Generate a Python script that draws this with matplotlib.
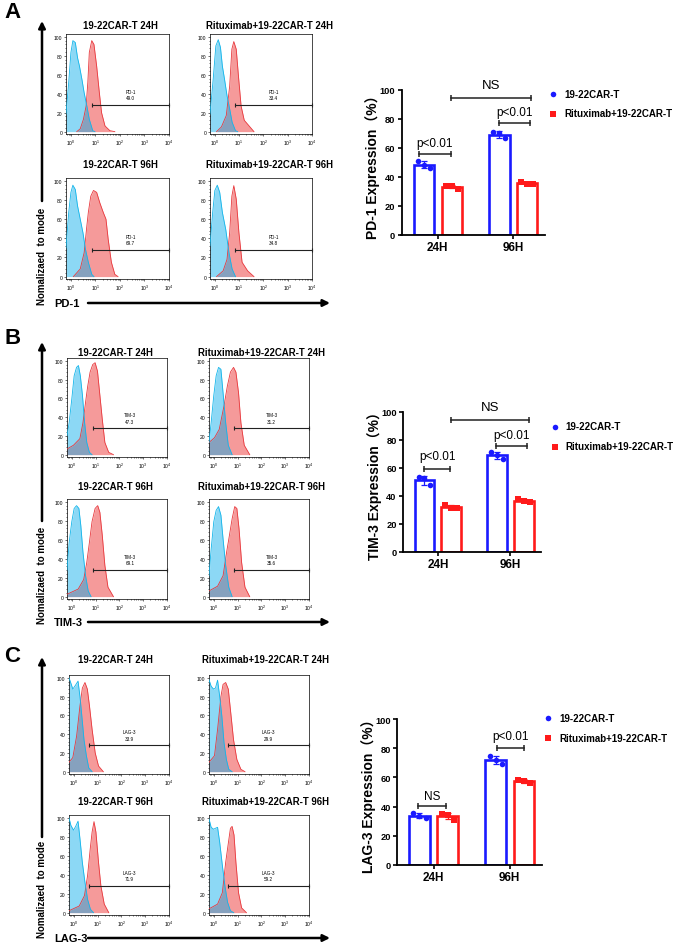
import numpy as np
import matplotlib.pyplot as plt
from matplotlib.ticker import MultipleLocator

plt.rcParams['font.family'] = ['Liberation Sans', 'Noto Sans CJK SC', 'DejaVu Sans']

W, H = 694, 945

# ---- flow histograms, points are (log10 intensity, % of max)
# order: CAR-T 24H, Rituximab+CAR-T 24H, CAR-T 96H, Rituximab+CAR-T 96H
hist_titles = ['19-22CAR-T 24H', 'Rituximab+19-22CAR-T 24H',
               '19-22CAR-T 96H', 'Rituximab+19-22CAR-T 96H']

pd1_iso = [
    [(-0.2, 18.6), (-0.09, 52), (0.0, 83.5), (0.08, 96), (0.18, 94), (0.27, 78), (0.35, 69), (0.45, 55), (0.54, 41), (0.65, 27), (0.75, 13), (0.89, 1), (0.98, 0)],
    [(-0.2, 18.6), (-0.07, 55), (0.04, 90.5), (0.14, 97), (0.23, 89), (0.31, 69), (0.4, 55), (0.5, 38), (0.61, 24), (0.71, 10), (0.85, 1), (0.94, 0)],
    [(-0.2, 30), (-0.09, 67), (0.0, 88), (0.08, 95.5), (0.18, 91), (0.27, 74), (0.38, 60), (0.49, 46), (0.59, 29), (0.71, 15), (0.85, 2.4), (0.94, 0)],
    [(-0.2, 32), (-0.09, 67), (0.0, 90), (0.1, 95.5), (0.2, 88), (0.31, 67), (0.45, 49), (0.58, 25), (0.71, 8), (0.85, 0)],
]
pd1_stain = [
    [(0.24, 0), (0.38, 3), (0.51, 13), (0.62, 27), (0.69, 52), (0.75, 83.5), (0.85, 96), (0.94, 92), (1.05, 69), (1.16, 41), (1.25, 20), (1.39, 6), (1.59, 1), (1.79, 0)],
    [(0.07, 0), (0.27, 5), (0.47, 17), (0.61, 48), (0.7, 87), (0.78, 95), (0.88, 87), (0.97, 59), (1.08, 27), (1.21, 12), (1.41, 6), (1.61, 0)],
    [(0.1, 0), (0.38, 8), (0.54, 25), (0.65, 53), (0.71, 67), (0.81, 84), (0.92, 90), (1.05, 88), (1.18, 77), (1.32, 67), (1.43, 60), (1.52, 39), (1.65, 15), (1.79, 2.4), (1.92, 0)],
    [(0.07, 0), (0.34, 6), (0.5, 18), (0.61, 46), (0.7, 84), (0.78, 95), (0.88, 81), (0.99, 46), (1.12, 15), (1.35, 6), (1.61, 0)],
]
pd1_gate = [0.85, 0.85, 0.85, 0.85]
pd1_pct = ['49.0', '33.4', '69.7', '34.8']

tim3_iso = [
    [(-0.2, 20), (-0.11, 34), (0.0, 59), (0.1, 84), (0.2, 93), (0.28, 95), (0.36, 84), (0.45, 63), (0.54, 34), (0.63, 13), (0.74, 2.5), (0.85, 0)],
    [(-0.2, 13), (-0.11, 34), (0.0, 63), (0.1, 84), (0.2, 93), (0.3, 91), (0.39, 66), (0.5, 34), (0.61, 10), (0.77, 0)],
    [(-0.2, 28), (-0.11, 57), (0.0, 79), (0.1, 93), (0.2, 96), (0.3, 93), (0.38, 75), (0.47, 47), (0.58, 22), (0.69, 6), (0.81, 0)],
    [(-0.2, 22), (-0.11, 50), (0.0, 79), (0.1, 91), (0.2, 95), (0.3, 86), (0.39, 61), (0.5, 33), (0.63, 10), (0.77, 0)],
]
tim3_stain = [
    [(-0.2, 6), (0.07, 10), (0.34, 17), (0.47, 34), (0.58, 56), (0.67, 73), (0.77, 88), (0.88, 96), (0.98, 98), (1.08, 89), (1.17, 66), (1.28, 38), (1.39, 13), (1.55, 2.5), (1.75, 0)],
    [(-0.2, 13), (0.03, 18), (0.23, 27), (0.43, 52), (0.57, 73), (0.7, 88), (0.83, 93), (0.93, 88), (1.04, 66), (1.14, 34), (1.28, 10), (1.51, 0)],
    [(-0.2, 2.5), (0.27, 8), (0.5, 18), (0.63, 36), (0.74, 57), (0.85, 79), (0.98, 93), (1.09, 96), (1.18, 89), (1.28, 65), (1.39, 33), (1.52, 10), (1.75, 0)],
    [(-0.2, 6), (0.16, 11), (0.39, 22), (0.54, 47), (0.66, 65), (0.77, 82), (0.88, 95), (0.97, 93), (1.06, 72), (1.17, 36), (1.31, 10), (1.51, 0)],
]
tim3_gate = [0.88, 0.87, 0.88, 0.87]
tim3_pct = ['47.3', '31.2', '69.1', '35.6']

lag3_iso = [
    [(-0.2, 100), (-0.13, 95), (-0.04, 88), (0.07, 92), (0.18, 96.5), (0.26, 80), (0.34, 59), (0.43, 34), (0.53, 17), (0.63, 4), (0.77, 0)],
    [(-0.2, 98), (-0.11, 91), (-0.01, 88), (0.07, 89), (0.16, 97.5), (0.25, 80), (0.34, 59), (0.43, 31), (0.53, 13), (0.63, 2.5), (0.77, 0)],
    [(-0.2, 100), (-0.12, 92), (-0.01, 87), (0.08, 91), (0.18, 96.5), (0.26, 78), (0.36, 53), (0.47, 32), (0.58, 14), (0.7, 3.5), (0.83, 0)],
    [(-0.2, 99), (-0.11, 90), (-0.01, 88), (0.07, 89), (0.16, 90), (0.25, 74), (0.36, 50), (0.47, 28), (0.58, 11), (0.7, 2), (0.84, 0)],
]
lag3_stain = [
    [(-0.2, 10), (-0.04, 15), (0.12, 38), (0.26, 70), (0.36, 89), (0.47, 95), (0.57, 88), (0.66, 70), (0.77, 45), (0.9, 20), (1.04, 6), (1.24, 0)],
    [(-0.2, 10), (0.03, 17), (0.16, 45), (0.3, 80), (0.39, 93), (0.5, 95), (0.61, 88), (0.7, 66), (0.83, 34), (0.97, 13), (1.14, 2.5), (1.31, 0)],
    [(-0.2, 2), (0.23, 7), (0.45, 18), (0.58, 39), (0.69, 67), (0.77, 85), (0.85, 96), (0.93, 85), (1.04, 53), (1.14, 28), (1.28, 9), (1.47, 0)],
    [(-0.2, 4), (0.16, 9), (0.36, 21), (0.5, 53), (0.61, 73), (0.7, 89), (0.77, 91), (0.85, 82), (0.93, 53), (1.04, 21), (1.17, 5), (1.37, 0)],
]
lag3_gate = [0.63, 0.61, 0.63, 0.61]
lag3_pct = ['33.9', '29.9', '71.9', '59.2']

# ---- bar charts, replicate values (%) for 24H and 96H
groups = ['24H', '96H']
series_names = ['19-22CAR-T', 'Rituximab+19-22CAR-T']
pd1_car = [[51, 48.5, 46], [71, 70, 66.5]]
pd1_rit = [[34, 33.5, 32], [36.5, 35, 35]]
tim3_car = [[53.5, 52.5, 47.5], [71.5, 69, 66.5]]
tim3_rit = [[33.5, 31.5, 31], [37.5, 36, 35.5]]
lag3_car = [[35.5, 33.5, 32.5], [74.5, 72, 69]]
lag3_rit = [[35, 34.5, 31], [58.5, 57.5, 56]]

BLUE = '#1a1aff'
RED = '#ff1a1a'

fig = plt.figure(figsize=(W / 100, H / 100), dpi=100)

ov = fig.add_axes([0, 0, 1, 1])
ov.set_xlim(0, W)
ov.set_ylim(H, 0)
ov.axis('off')


def px_rect(l, t, r, b):
    return [l / W, 1 - b / H, (r - l) / W, (b - t) / H]


def hist_panel(rect, iso, stain, g0, marker, pct):
    ax = fig.add_axes(px_rect(*rect))
    for curve, fc, alpha, lc, z in [(stain, '#f59a9a', 1.0, '#e8383d', 1),
                                    (iso, '#00aaeb', 0.45, '#12b5ea', 2)]:
        lx, y = zip(*curve)
        x = 10 ** np.array(lx)
        ax.fill_between(x, y, 0, color=fc, alpha=alpha, lw=0, zorder=z)
        ax.plot(x, y, color=lc, lw=0.6, zorder=3)
    ax.set_xscale('log')
    ax.set_xlim(10 ** -0.2, 1e4)
    ax.set_ylim(-2.5, 103)
    ax.set_yticks([0, 20, 40, 60, 80, 100])
    ax.yaxis.set_minor_locator(MultipleLocator(4))
    ax.tick_params(which='both', labelsize=3.6, length=1.5, width=0.4, pad=1)
    ax.tick_params(which='minor', length=0.8)
    for s in ax.spines.values():
        s.set_linewidth(0.5)
    gy = 28
    ax.plot([10 ** g0, 1e4], [gy, gy], color='#222222', lw=0.8, marker='|',
            ms=3, mew=0.8, zorder=4, clip_on=False)
    xc = 10 ** ((g0 + 4) / 2)
    ax.text(xc, gy + 5, marker + '\n' + pct, ha='center', va='bottom',
            fontsize=3.3, linespacing=1.3, zorder=4)
    return ax


def hist_block(rows, cols, titles_y, isos, stains, gates, pcts, marker, tx):
    k = 0
    for r, (t, b) in enumerate(rows):
        for c, (l, rr) in enumerate(cols):
            hist_panel((l, t, rr, b), isos[k], stains[k], gates[k], marker, pcts[k])
            ov.text(tx[c], titles_y[r], hist_titles[k], ha='center', va='center',
                    fontsize=6.9, fontweight='bold')
            k += 1


def axis_arrows(letter, ly, vtop, vtail, vtext, hy, label):
    ov.text(4, ly, letter, fontsize=16, fontweight='bold', va='center', ha='left')
    ov.annotate('', xy=(42, vtop), xytext=(42, vtail),
                arrowprops=dict(arrowstyle='-|>', lw=1.8, color='black',
                                mutation_scale=10, shrinkA=0, shrinkB=0))
    ov.text(42, vtext, 'Nomalizaed  to mode', rotation=90, ha='center',
            va='center', fontsize=7, fontweight='bold')
    ov.text(54, hy, label, ha='left', va='center', fontsize=8, fontweight='bold')
    ov.annotate('', xy=(330, hy), xytext=(88, hy),
                arrowprops=dict(arrowstyle='-|>', lw=1.8, color='black',
                                mutation_scale=10, shrinkA=0, shrinkB=0))


def bar_panel(rect, car, rit, ylabel, brackets, leg_xy, ylab_x):
    ax = fig.add_axes(px_rect(*rect))
    xs = np.arange(len(groups))
    w, off = 0.27, 0.185
    jit = np.array([-0.08, 0.0, 0.08])
    for data, col, mk, sgn, name in [(car, BLUE, 'o', -1, series_names[0]),
                                     (rit, RED, 's', 1, series_names[1])]:
        for i, pts in enumerate(data):
            x = xs[i] + sgn * off
            m, sd = np.mean(pts), np.std(pts, ddof=1)
            ax.bar(x, m, w, facecolor='white', edgecolor=col, lw=1.9, zorder=2)
            ax.errorbar(x, m, yerr=sd, color=col, capsize=2.5, lw=0.9,
                        capthick=0.9, zorder=3)
            ax.scatter(x + jit[:len(pts)], pts, s=16, marker=mk, color=col,
                       zorder=4, lw=0, label=name if i == 0 else None,
                       clip_on=False)
    ax.set_xlim(-0.48, 1.42)
    ax.set_ylim(0, 100)
    ax.set_yticks(range(0, 101, 20))
    ax.set_xticks(xs)
    ax.set_xticklabels(groups)
    for s in ['top', 'right']:
        ax.spines[s].set_visible(False)
    for s in ['left', 'bottom']:
        ax.spines[s].set_linewidth(1.3)
    ax.tick_params(direction='out', length=3, width=1.2, pad=1.5)
    ax.tick_params(axis='y', labelsize=6.7)
    ax.tick_params(axis='x', labelsize=8.5)
    for lab in ax.get_xticklabels() + ax.get_yticklabels():
        lab.set_fontweight('bold')
    ax.set_ylabel(ylabel, fontsize=10, fontweight='bold')
    ax.yaxis.set_label_coords(ylab_x, 0.5)
    for x0, x1, y, txt, ty, fs in brackets:
        ax.plot([x0, x1], [y, y], color='#222222', lw=1.1, clip_on=False,
                marker='|', ms=5, mew=1.1)
        ax.text((x0 + x1) / 2, ty, txt, ha='center', va='center', fontsize=fs,
                clip_on=False)
    ax.legend(loc='center left', bbox_to_anchor=leg_xy, frameon=False,
              handlelength=0.8, handletextpad=0.7, labelspacing=1.0,
              borderpad=0, borderaxespad=0,
              prop={'weight': 'bold', 'size': 7})
    return ax


# ---------------- A
axis_arrows('A', 12, 22, 202, 256, 304, 'PD-1')
hist_block([(35, 135), (179, 280)], [(66, 169), (210, 312)], [26, 165],
           pd1_iso, pd1_stain, pd1_gate, pd1_pct, 'PD-1', [120, 270])
bar_panel((401.5, 90.7, 545, 236), pd1_car, pd1_rit, 'PD-1 Expression（%）',
          [(-0.25, 0.17, 55.7, 'p<0.01', 63, 8.5),
           (0.81, 1.22, 77, 'p<0.01', 84.5, 8.5),
           (0.18, 1.23, 94.3, 'NS', 103, 9.5)],
          (1.03, 0.905), -0.15)

# ---------------- B
axis_arrows('B', 338, 343, 522, 575, 623, 'TIM-3')
hist_block([(359, 458), (500, 600)], [(67, 167), (209, 309)], [353, 487],
           tim3_iso, tim3_stain, tim3_gate, tim3_pct, 'TIM-3', [115, 262])
bar_panel((403, 412.7, 541, 552.7), tim3_car, tim3_rit, 'TIM-3 Expression（%）',
          [(-0.19, 0.17, 59, 'p<0.01', 68, 8.5),
           (0.80, 1.23, 75.7, 'p<0.01', 83.5, 8.5),
           (0.18, 1.26, 94, 'NS', 103, 9.5)],
          (1.07, 0.825), -0.15)

# ---------------- C
axis_arrows('C', 657, 658, 838, 889, 939, 'LAG-3')
hist_block([(676, 775), (816, 916)], [(69, 169), (209, 309)], [660, 802],
           lag3_iso, lag3_stain, lag3_gate, lag3_pct, 'LAG-3', [115, 266])
bar_panel((397, 720, 541.7, 866), lag3_car, lag3_rit, 'LAG-3 Expression（%）',
          [(-0.2, 0.16, 40.2, 'NS', 47.5, 8.5),
           (0.83, 1.19, 80, 'p<0.01', 88.5, 8.5)],
          (1.02, 0.94), -0.145)

fig.savefig('out.png', dpi=100)
